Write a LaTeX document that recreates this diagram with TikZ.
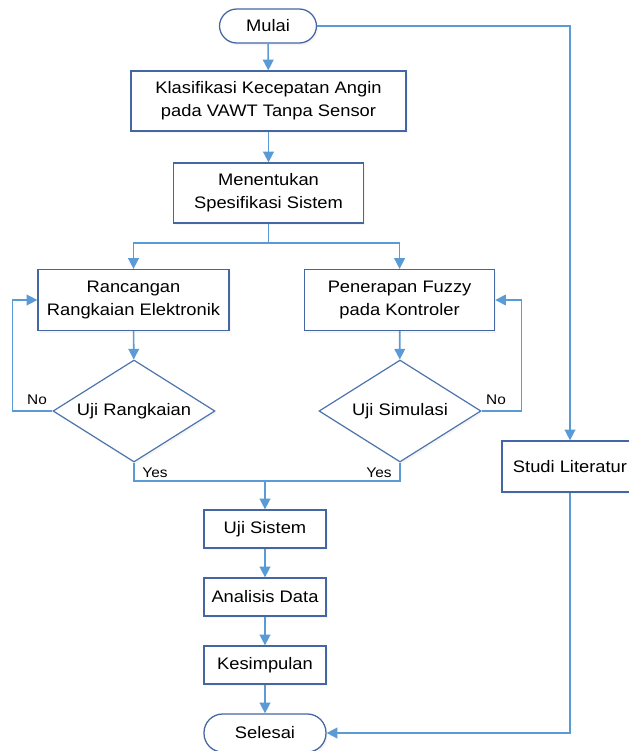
\documentclass[tikz,border=0pt]{standalone}
\usepackage{fontspec}
\setmainfont[FakeStretch=1.1]{Liberation Sans}
\usetikzlibrary{arrows.meta,shapes.geometric,shadows}
\definecolor{conn}{HTML}{5B9BD5}
\definecolor{bord}{HTML}{4466A2}
\definecolor{dbord}{HTML}{4E74AC}
\begin{document}
\begin{tikzpicture}[x=0.75pt,y=-0.75pt,
  every node/.style={font=\fontsize{12.5pt}{17pt}\selectfont, align=center},
  boxshadow/.style={drop shadow={opacity=0.08,shadow xshift=1.2pt,shadow yshift=-1.8pt}},
  procbox/.style={draw=bord, line width=0.95pt, fill=white, rectangle, inner sep=0pt, boxshadow},
  termbox/.style={procbox, rounded corners=13pt},
  decbox/.style={draw=dbord, line width=0.9pt, fill=white, diamond, shape aspect=1.59, inner sep=0pt, minimum width=121.5pt, minimum height=76.5pt, boxshadow},
  conn/.style={draw=conn, line width=1.2pt},
  arr/.style={conn, -{Triangle[length=8pt,width=8pt]}},
  lbl/.style={font=\fontsize{10.5pt}{12pt}\selectfont, inner sep=0pt}]
\useasboundingbox (0,0) rectangle (629,751);

\node[termbox, minimum width=72.75pt, minimum height=25.5pt] (mulai) at (268,26) {Mulai};
\node[procbox, minimum width=206.25pt, minimum height=45pt] (klas) at (268.5,101) {Klasifikasi Kecepatan Angin\\pada VAWT Tanpa Sensor};
\node[procbox, minimum width=142.5pt, minimum height=45pt] (spes) at (268.5,193) {Menentukan\\Spesifikasi Sistem};
\node[procbox, minimum width=143.25pt, minimum height=45.75pt] (ranc) at (133.5,300) {Rancangan\\Rangkaian Elektronik};
\node[procbox, minimum width=142.5pt, minimum height=45.75pt] (pener) at (399.6,300) {Penerapan Fuzzy\\pada Kontroler};
\node[decbox] (ujir) at (134,411) {Uji Rangkaian};
\node[decbox] (ujis) at (400,411) {Uji Simulasi};
\node[procbox, minimum width=91.5pt, minimum height=28.5pt] (sistem) at (265,529) {Uji Sistem};
\node[procbox, minimum width=91.5pt, minimum height=28.5pt] (anal) at (265,597) {Analisis Data};
\node[procbox, minimum width=91.5pt, minimum height=28.5pt] (kesi) at (265,665) {Kesimpulan};
\node[termbox, minimum width=91.5pt, minimum height=28.5pt, rounded corners=14pt] (selesai) at (265,733) {Selesai};
\node[procbox, minimum width=102pt, minimum height=38.25pt] (studi) at (570,466.5) {Studi Literatur};

\coordinate (split) at (268.5,243);
\coordinate (merge) at (265,481);

\draw[arr] (mulai) -- (klas);
\draw[arr] (klas) -- (spes);
\draw[conn] (spes.south) -- (split);
\draw[arr] (split) -| (ranc.north);
\draw[arr] (split) -| (pener.north);
\draw[arr] (ranc) -- (ujir);
\draw[arr] (pener) -- (ujis);
\draw[arr] (ujir.west) -- ++(-40,0) |- (ranc.west);
\draw[arr] (ujis.east) -- ++(40,0) |- (pener.east);
\draw[conn] (ujir.south) -- (ujir.south |- merge) -- (ujis.south |- merge) -- (ujis.south);
\draw[arr] (merge) -- (sistem);
\draw[arr] (sistem) -- (anal);
\draw[arr] (anal) -- (kesi);
\draw[arr] (kesi) -- (selesai);
\draw[arr] (mulai.east) -| (studi.north);
\draw[arr] (studi.south) |- (selesai.east);

\node[lbl] (no1) at (37,400) {No};
\node[lbl] (no2) at (496,400) {No};
\node[lbl] (yes1) at (155,473) {Yes};
\node[lbl] (yes2) at (379,473) {Yes};
\end{tikzpicture}
\end{document}
